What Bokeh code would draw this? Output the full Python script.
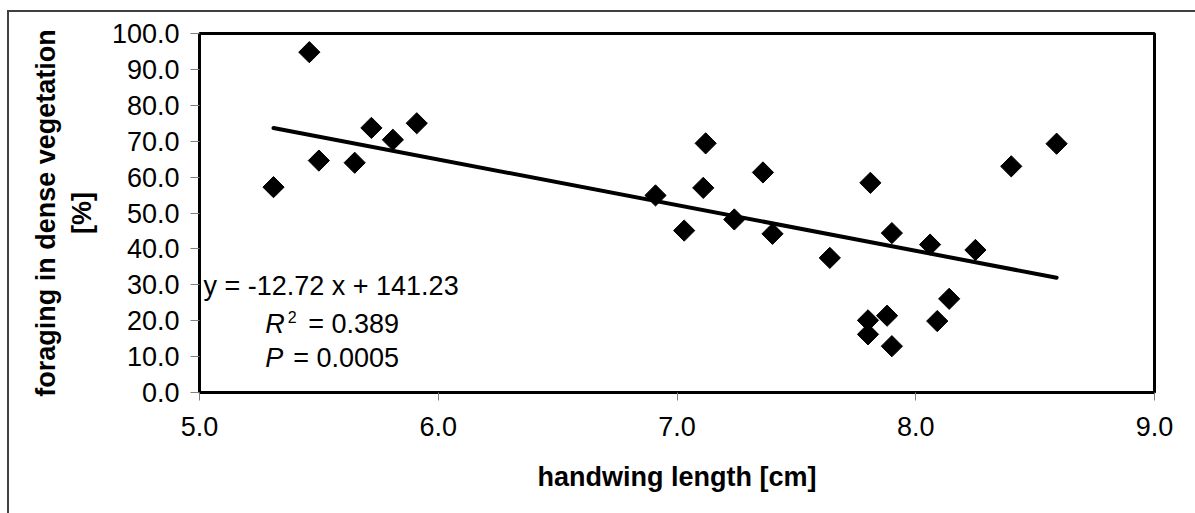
from bokeh.plotting import figure
from bokeh.models import Range1d, FixedTicker, PrintfTickFormatter, Label
from bokeh.embed import file_html
from bokeh.resources import INLINE

# data
handwing_cm = [5.31, 5.46, 5.50, 5.65, 5.72, 5.81, 5.91,
               6.91, 7.03, 7.11, 7.12, 7.24, 7.36, 7.40, 7.64,
               7.80, 7.80, 7.81, 7.88, 7.90, 7.90,
               8.06, 8.09, 8.14, 8.25, 8.40, 8.59]
dense_veg_pct = [57.2, 94.8, 64.6, 64.0, 73.7, 70.4, 75.0,
                 54.9, 45.1, 57.0, 69.4, 48.2, 61.3, 44.2, 37.5,
                 20.1, 16.2, 58.4, 21.4, 44.4, 12.9,
                 41.2, 19.9, 26.1, 39.7, 63.0, 69.3]
slope = -12.72
intercept = 141.23
r_squared = "0.389"
p_value = "0.0005"
x_ticks = [5.0, 6.0, 7.0, 8.0, 9.0]
y_ticks = [0, 10, 20, 30, 40, 50, 60, 70, 80, 90, 100]

FONT = "Liberation Sans"

p = figure(width=1195, height=513, output_backend="svg", toolbar_location=None,
           x_range=Range1d(5.0, 9.0), y_range=Range1d(0, 100),
           min_border_left=199, min_border_right=41, min_border_top=33, min_border_bottom=121)
p.background_fill_color = "white"
p.border_fill_color = None
p.outline_line_color = "black"
p.outline_line_width = 3
p.xgrid.visible = False
p.ygrid.visible = False
# outer chart-area border (its right and bottom edges lie outside the window)
p.styles = {"background-color": "white",
            "box-shadow": "inset 7px 10px 0 0 white, inset 9px 12px 0 0 #404040"}

for ax in (p.xaxis[0], p.yaxis[0]):
    ax.axis_line_color = "black"
    ax.axis_line_width = 3
    ax.major_tick_line_color = "#808080"
    ax.major_tick_line_width = 1
    ax.major_tick_in = 0
    ax.minor_tick_line_color = None
    ax.major_label_text_font = FONT
    ax.major_label_text_font_size = "27px"
    ax.major_label_text_color = "black"
    ax.axis_label_text_font = FONT
    ax.axis_label_text_font_size = "27px"
    ax.axis_label_text_font_style = "bold"
    ax.axis_label_text_color = "black"
    ax.formatter = PrintfTickFormatter(format="%.1f")

p.xaxis[0].ticker = FixedTicker(ticks=x_ticks)
p.yaxis[0].ticker = FixedTicker(ticks=y_ticks)
p.xaxis[0].major_tick_out = 8
p.yaxis[0].major_tick_out = 9
p.xaxis[0].major_label_standoff = 16
p.yaxis[0].major_label_standoff = 11
p.xaxis[0].axis_label = "handwing length [cm]"
p.yaxis[0].axis_label = "foraging in dense vegetation\n[%]"
p.xaxis[0].axis_label_standoff = 23
p.yaxis[0].axis_label_standoff = 12

# regression line from the equation, across the data's x extent
x0, x1 = min(handwing_cm), max(handwing_cm)
p.line([x0, x1], [slope * x0 + intercept, slope * x1 + intercept],
       line_color="black", line_width=4, line_cap="round")

p.scatter(handwing_cm, dense_veg_pct, marker="square", size=15, angle=0.785398,
          fill_color="black", line_color="black")

# equation and statistics
eq = "y = %.2f x + %.2f" % (slope, intercept)
p.add_layout(Label(x=5.551, y=29.7, text=eq, text_align="center", text_baseline="middle",
                   text_font=FONT, text_font_size="27px", text_color="black"))
p.add_layout(Label(x=5.275, y=19.1, text="R", text_align="left", text_baseline="middle",
                   text_font=FONT, text_font_size="27px", text_font_style="italic", text_color="black"))
p.add_layout(Label(x=5.370, y=20.9, text="2", text_align="left", text_baseline="middle",
                   text_font=FONT, text_font_size="16px", text_color="black"))
p.add_layout(Label(x=5.836, y=19.1, text="= " + r_squared, text_align="right", text_baseline="middle",
                   text_font=FONT, text_font_size="27px", text_color="black"))
p.add_layout(Label(x=5.275, y=9.6, text="P", text_align="left", text_baseline="middle",
                   text_font=FONT, text_font_size="27px", text_font_style="italic", text_color="black"))
p.add_layout(Label(x=5.836, y=9.6, text="= " + p_value, text_align="right", text_baseline="middle",
                   text_font=FONT, text_font_size="27px", text_color="black"))

open("out.html", "w").write(file_html(p, INLINE))
